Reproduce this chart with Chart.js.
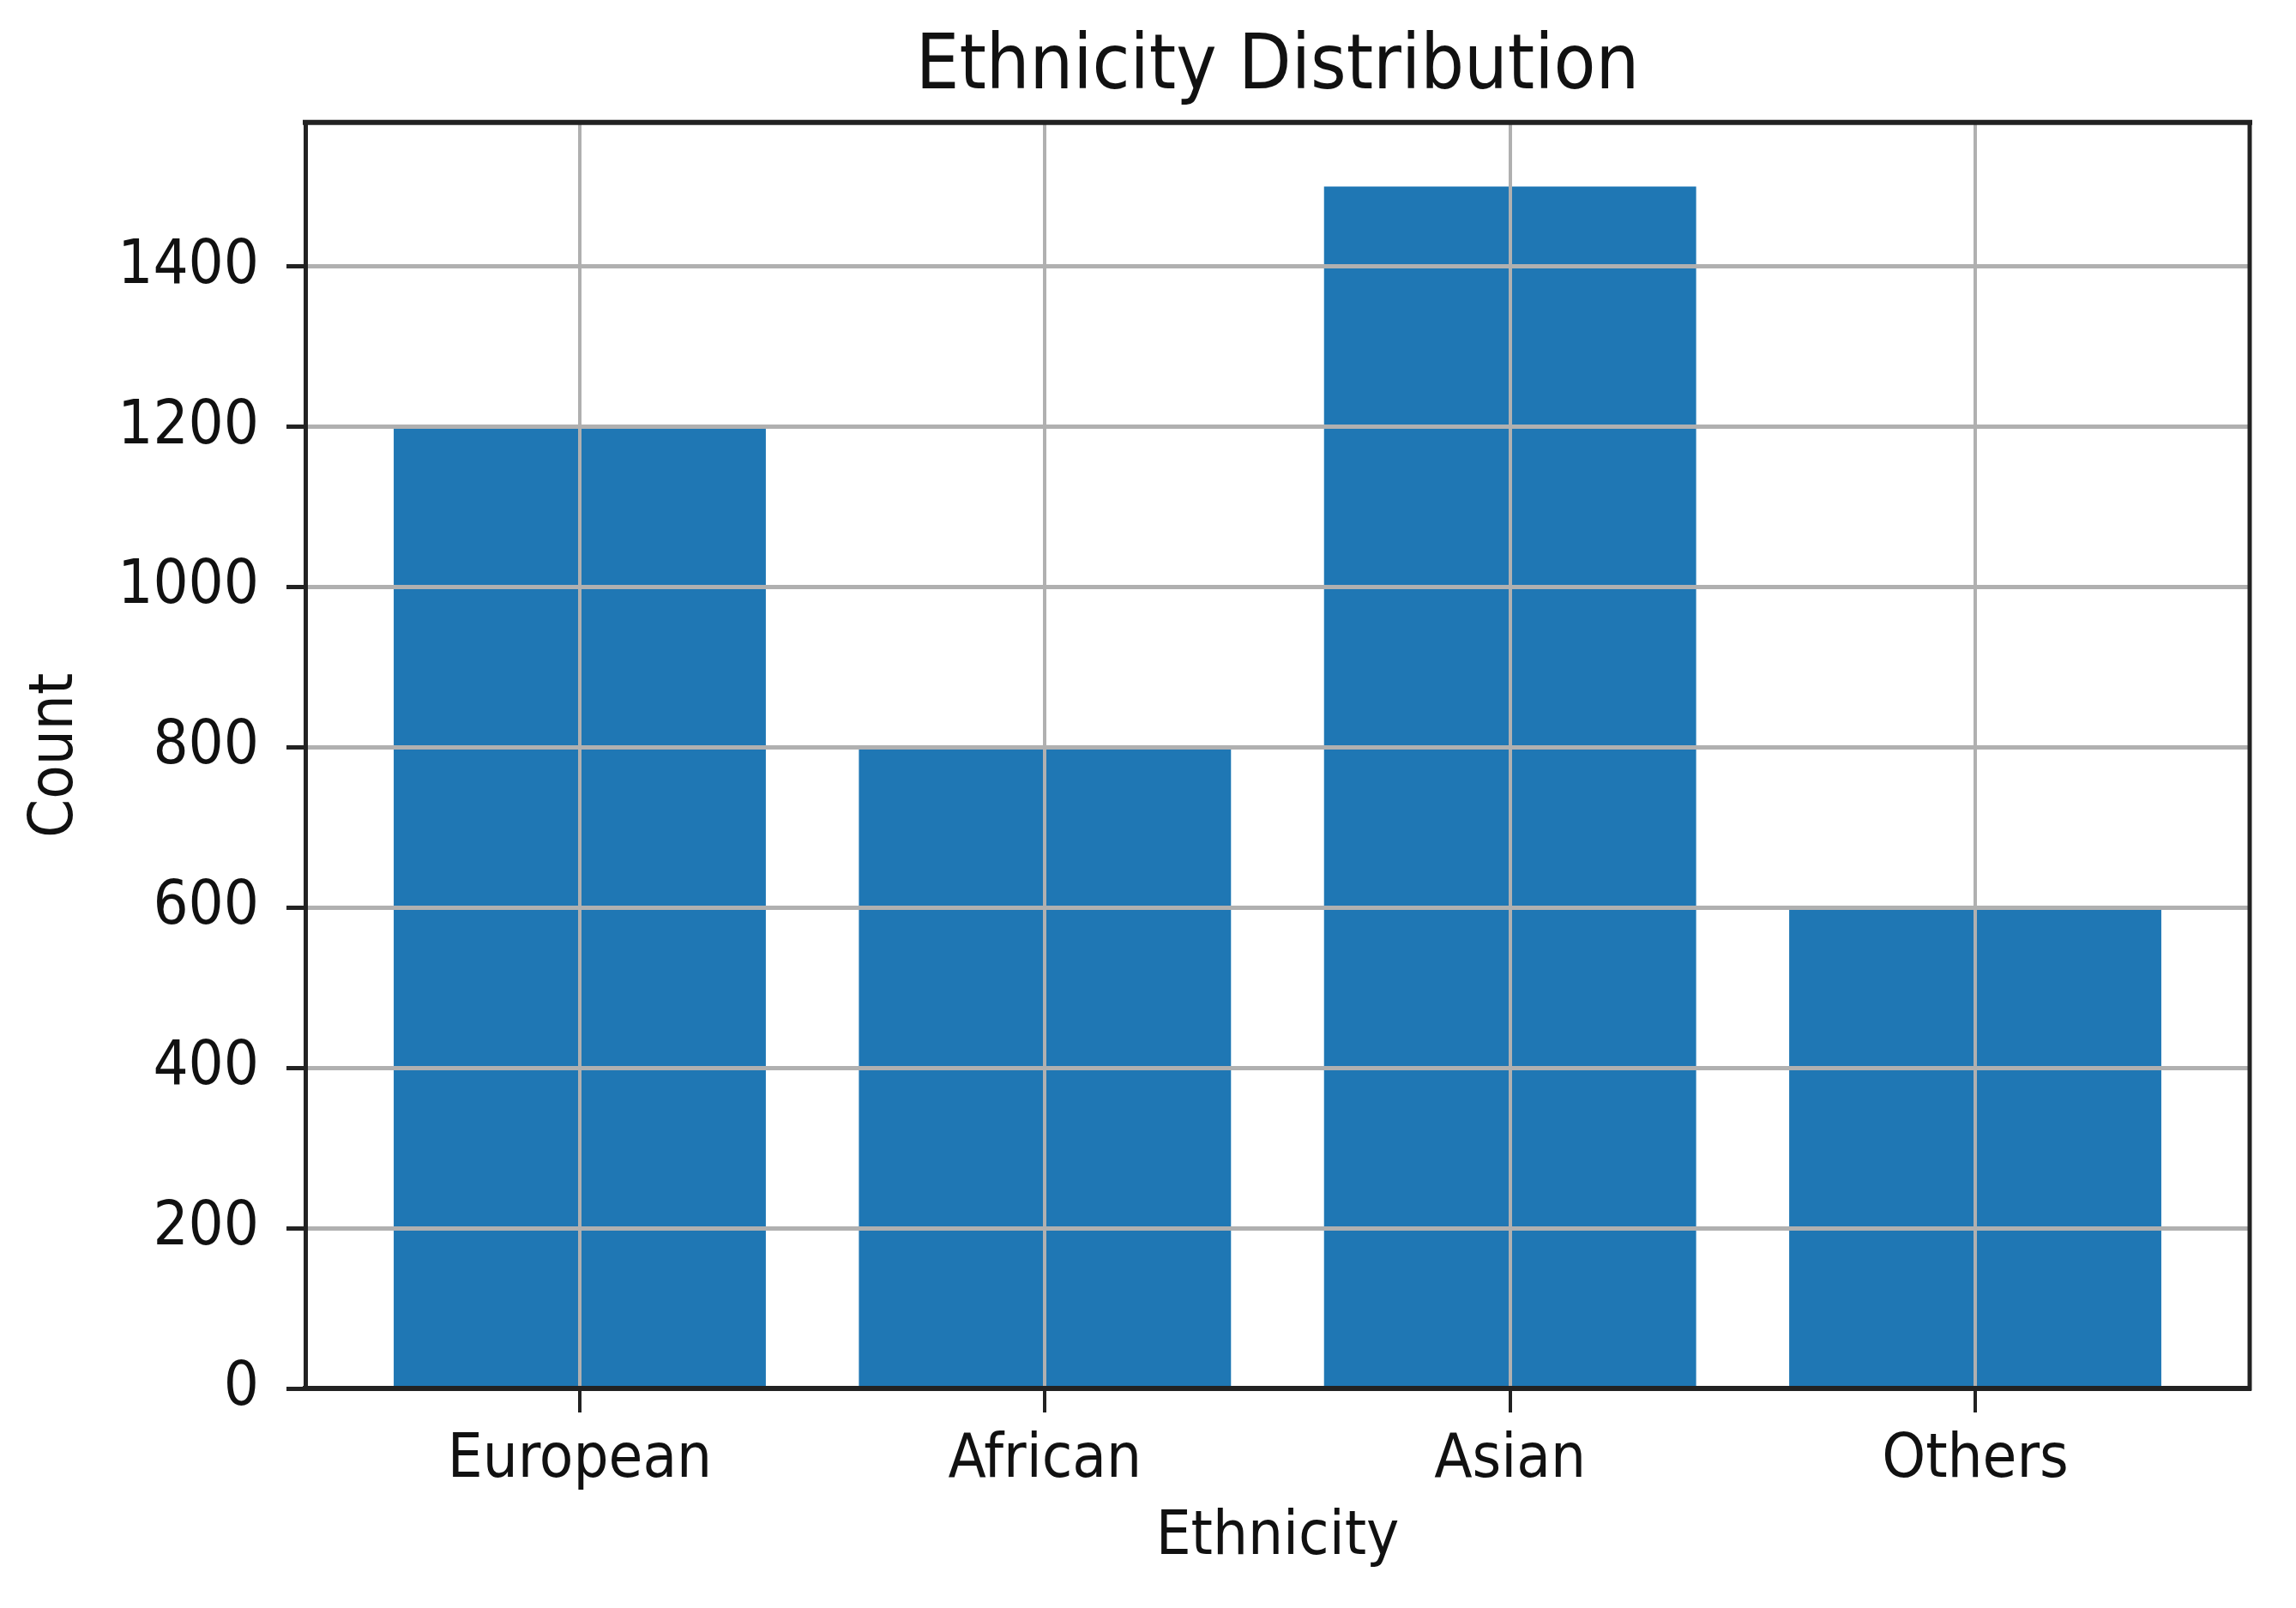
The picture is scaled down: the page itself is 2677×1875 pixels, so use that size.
<!DOCTYPE html>
<html>
<head>
<meta charset="utf-8">
<script src="https://cdn.jsdelivr.net/npm/chart.js@4"></script>
<style>
html, body { margin: 0; padding: 0; background: #ffffff; }
#wrap { width: 2677px; height: 1875px; }
</style>
</head>
<body>
<div id="wrap"><canvas id="c" width="2677" height="1875"></canvas></div>
<script>
// ---- data ----
const categories = ['European', 'African', 'Asian', 'Others'];
const counts = [1200, 800, 1500, 600];
const yTickValues = [0, 200, 400, 600, 800, 1000, 1200, 1400];
const titleText = 'Ethnicity Distribution';
const xAxisLabel = 'Ethnicity';
const yAxisLabel = 'Count';

// ---- styling ----
const FAMILY = "'DejaVu Sans Condensed', 'DejaVu Sans', sans-serif";
const TEXT = '#111111';
const SPINE = '#222222';
const GRID = '#b0b0b0';
const BAR = '#1f77b4';

const framePlugin = {
  id: 'frame',
  afterDraw(chart) {
    const { ctx, chartArea: a } = chart;
    ctx.save();
    ctx.strokeStyle = SPINE;
    ctx.lineCap = 'square';
    ctx.lineWidth = 6;
    ctx.beginPath();
    ctx.moveTo(a.left, a.top);
    ctx.lineTo(a.right, a.top);
    ctx.stroke();
    ctx.lineWidth = 5;
    ctx.beginPath();
    ctx.moveTo(a.right, a.top);
    ctx.lineTo(a.right, a.bottom);
    ctx.stroke();
    ctx.restore();
  }
};

new Chart(document.getElementById('c'), {
  type: 'bar',
  data: {
    datasets: [{
      data: categories.map((c, i) => ({ x: i, y: counts[i] })),
      backgroundColor: BAR,
      borderWidth: 0,
      barPercentage: 0.8,
      categoryPercentage: 1.0
    }]
  },
  plugins: [framePlugin],
  options: {
    responsive: false,
    animation: false,
    devicePixelRatio: 1,
    events: [],
    layout: { padding: { left: 0, right: 54, top: 0, bottom: 0 } },
    plugins: {
      legend: { display: false },
      tooltip: { enabled: false },
      title: {
        display: true,
        text: titleText,
        fullSize: false,
        color: TEXT,
        font: { family: FAMILY, size: 89, weight: 'normal', lineHeight: 1.2 },
        padding: { top: 26, bottom: 10 }
      }
    },
    scales: {
      x: {
        type: 'linear',
        min: -0.59,
        max: 3.59,
        offset: false,
        afterBuildTicks: (s) => { s.ticks = categories.map((c, i) => ({ value: i })); },
        afterFit: (s) => { s.height = 256; },
        ticks: {
          callback: (v) => categories[v],
          color: TEXT,
          font: { family: FAMILY, size: 72, lineHeight: 1.2 },
          padding: 13,
          maxRotation: 0,
          autoSkip: false,
          z: 2
        },
        grid: { z: 1, offset: false, color: GRID, lineWidth: 4, drawTicks: true, tickLength: 28, tickColor: SPINE, tickWidth: 4 },
        border: { z: 2, display: true, color: SPINE, width: 6 },
        title: {
          display: true,
          text: xAxisLabel,
          color: TEXT,
          font: { family: FAMILY, size: 72, lineHeight: 1.2 },
          padding: { top: 0, bottom: 39 }
        }
      },
      y: {
        type: 'linear',
        min: 0,
        max: 1580,
        afterBuildTicks: (s) => { s.ticks = yTickValues.map(v => ({ value: v })); },
        afterFit: (s) => { s.width = 356; },
        ticks: {
          color: TEXT,
          font: { family: FAMILY, size: 72, lineHeight: 1.2 },
          padding: 32,
          callback: (v) => String(v),
          z: 2
        },
        grid: { z: 1, offset: false, color: GRID, lineWidth: 5, drawTicks: true, tickLength: 22, tickColor: SPINE, tickWidth: 5 },
        border: { z: 2, display: true, color: SPINE, width: 5 },
        title: {
          display: true,
          text: yAxisLabel,
          color: TEXT,
          font: { family: FAMILY, size: 72, lineHeight: 1.2 },
          padding: { top: 22, bottom: 0 }
        }
      }
    }
  }
});
</script>
</body>
</html>
